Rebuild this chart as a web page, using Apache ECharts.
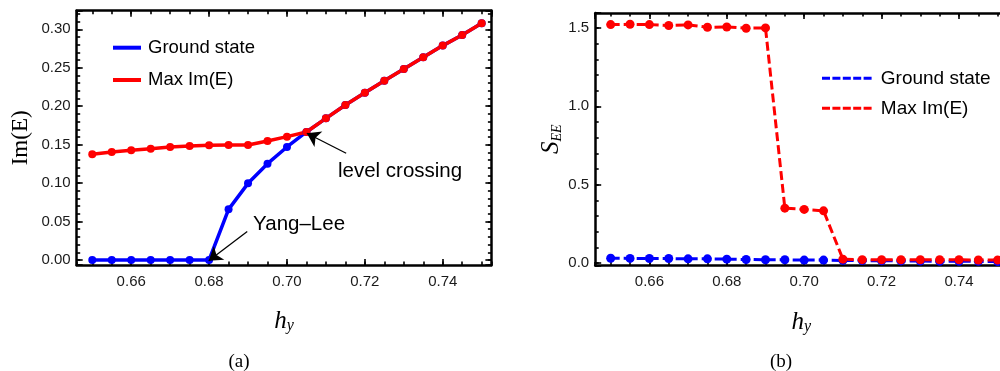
<!DOCTYPE html>
<html>
<head>
<meta charset="utf-8">
<script src="https://cdn.jsdelivr.net/npm/echarts@6/dist/echarts.min.js"></script>
<style>
  html, body { margin: 0; padding: 0; background: #fff; }
  #chart { width: 1000px; height: 371px; }
</style>
</head>
<body>
<div id="chart"></div>
<script>
// h_y
var hy = [0.65, 0.655, 0.66, 0.665, 0.67, 0.675, 0.68, 0.685, 0.69, 0.695, 0.70,
  0.705, 0.71, 0.715, 0.72, 0.725, 0.73, 0.735, 0.74, 0.745, 0.75];
// (a) Im(E)
var imGround = [0, 0, 0, 0, 0, 0, 0, 0.0659, 0.0997, 0.1253, 0.1470,
  0.1665, 0.1842, 0.2016, 0.2176, 0.2332, 0.2484, 0.2636, 0.2788, 0.2926, 0.3078];
var imMax = [0.1374, 0.1405, 0.1426, 0.1448, 0.1470, 0.1483, 0.1491, 0.1496, 0.1496, 0.1548, 0.1604,
  0.1665, 0.1842, 0.2016, 0.2176, 0.2332, 0.2484, 0.2636, 0.2788, 0.2926, 0.3078];
// (b) S_EE
var seeGround = [0.032, 0.031, 0.030, 0.030, 0.028, 0.028, 0.026, 0.024, 0.022, 0.022, 0.020,
  0.020, 0.018, 0.017, 0.016, 0.015, 0.014, 0.013, 0.012, 0.012, 0.011];
var seeMax = [1.521, 1.523, 1.521, 1.515, 1.519, 1.504, 1.506, 1.498, 1.500, 0.351, 0.343,
  0.334, 0.026, 0.023, 0.022, 0.022, 0.022, 0.022, 0.022, 0.021, 0.021];
// 刻度标签
var xTickLabels = ['0.66', '0.68', '0.70', '0.72', '0.74'];
var imTickLabels = ['0.00', '0.05', '0.10', '0.15', '0.20', '0.25', '0.30'];
var seeTickLabels = ['0.0', '0.5', '1.0', '1.5'];

var SANS = '"Liberation Sans", Arial, sans-serif';
var SERIF = '"Liberation Serif", "Times New Roman", serif';
var BLUE = '#0000ff';
var RED = '#ff0000';

function pairs(ys) {
  return hy.map(function (x, i) { return [x, ys[i]]; });
}

function pickLabel(list, digits) {
  return function (v) {
    var s = v.toFixed(digits);
    return list.indexOf(s) >= 0 ? s : '';
  };
}

// 边框 + 主次刻度（Mathematica frame 风格）
function frameAxes(dim, gridIndex, min, max, nMajor, nMinor, label, name) {
  var sides = dim === 'x' ? ['bottom', 'top'] : ['left', 'right'];
  var out = [];
  sides.forEach(function (side, k) {
    [nMajor, nMinor].forEach(function (n, j) {
      var ax = {
        type: 'value',
        gridIndex: gridIndex,
        position: side,
        min: min,
        max: max,
        splitNumber: n,
        splitLine: { show: false },
        axisLine: { show: j === 0, onZero: false, lineStyle: { color: '#000', width: 2.5 } },
        axisTick: { show: true, inside: true, length: j === 0 ? 6 : 3.5, lineStyle: { color: '#000', width: 1.6 } },
        axisLabel: { show: false },
      };
      if (k === 0 && j === 0) {
        ax.axisLabel = label;
        if (name) {
          for (var key in name) ax[key] = name[key];
        }
      }
      out.push(ax);
    });
  });
  return out;
}

var tickFont = { fontFamily: SANS, fontSize: 15, color: '#1a1a1a' };

var hName = {
  name: '{h|h}{s|y}',
  nameLocation: 'middle',
  nameGap: 44,
  nameTextStyle: {
    rich: {
      h: { fontFamily: SERIF, fontStyle: 'italic', fontSize: 25, color: '#000' },
      s: { fontFamily: SERIF, fontStyle: 'italic', fontSize: 16, color: '#000', verticalAlign: 'bottom', padding: [8, 0, 0, 0] },
    },
  },
};

var xAxes = []
  .concat(frameAxes('x', 0, 0.646, 0.7525, 5, 21,
    Object.assign({ show: true, margin: 9, showMinLabel: false, showMaxLabel: false, formatter: pickLabel(xTickLabels, 2) }, tickFont), hName))
  .concat(frameAxes('x', 1, 0.646, 0.7525, 5, 21,
    Object.assign({ show: true, margin: 9, showMinLabel: false, showMaxLabel: false, formatter: pickLabel(xTickLabels, 2) }, tickFont), hName));

var yAxes = []
  .concat(frameAxes('y', 0, -0.0065, 0.3242, 6, 33,
    Object.assign({ show: true, margin: 6, formatter: pickLabel(imTickLabels, 2) }, tickFont),
    {
      name: 'Im(E)',
      nameLocation: 'middle',
      nameGap: 44,
      nameTextStyle: { fontFamily: SERIF, fontSize: 23, color: '#000' },
    }))
  .concat(frameAxes('y', 1, -0.015, 1.595, 3, 16,
    Object.assign({ show: true, margin: 6, formatter: pickLabel(seeTickLabels, 1) }, tickFont),
    {
      name: '{s|S}{e|EE}',
      nameLocation: 'middle',
      nameGap: 31,
      nameTextStyle: {
        rich: {
          s: { fontFamily: SERIF, fontStyle: 'italic', fontSize: 25, color: '#000' },
          e: { fontFamily: SERIF, fontStyle: 'italic', fontSize: 14, color: '#000', verticalAlign: 'bottom', padding: [8, 0, 0, 0] },
        },
      },
    }));

// 箭头注释
var arrowStyle = { color: '#000', width: 1.3, type: 'solid' };
var noteLabel = { show: true, position: 'right', distance: 0, fontFamily: SANS, fontSize: 20.5, color: '#000', formatter: function (p) { return p.name; } };

var dashIcon = 'path://M0,0h8v3h-8z M10.4,0h8v3h-8z M20.8,0h8v3h-8z M31.2,0h8v3h-8z M41.6,0h8v3h-8z';

var option = {
  animation: false,
  backgroundColor: '#fff',
  grid: [
    { left: 76.7, top: 10.7, width: 414.7, height: 254.3, outerBoundsMode: 'none' },
    { left: 595.2, top: 13, width: 412.2, height: 252.6, outerBoundsMode: 'none' },
  ],
  xAxis: xAxes,
  yAxis: yAxes,
  legend: [
    {
      orient: 'vertical',
      left: 108,
      top: 32.7,
      itemWidth: 28,
      itemHeight: 4,
      itemGap: 12.3,
      selectedMode: false,
      textStyle: { fontFamily: SANS, fontSize: 18.5, color: '#000', lineHeight: 20, padding: [0, 0, 0, 2] },
      data: [
        { name: 'Ground state', icon: 'rect', itemStyle: { color: BLUE, borderWidth: 0 } },
        { name: 'Max Im(E)', icon: 'rect', itemStyle: { color: RED, borderWidth: 0 } },
      ],
    },
    {
      orient: 'vertical',
      left: 817,
      top: 63.3,
      itemWidth: 50,
      itemHeight: 3,
      itemGap: 10,
      selectedMode: false,
      textStyle: { fontFamily: SANS, fontSize: 19, color: '#000', lineHeight: 20, padding: [0, 0, 0, 4] },
      data: [
        { name: 'Ground state', icon: dashIcon, itemStyle: { color: BLUE, borderWidth: 0 } },
        { name: 'Max Im(E)', icon: dashIcon, itemStyle: { color: RED, borderWidth: 0 } },
      ],
    },
  ],
  graphic: [
    { type: 'text', x: 239, y: 362, style: { text: '(a)', font: '19px ' + SERIF, fill: '#000', align: 'center', verticalAlign: 'middle' } },
    { type: 'text', x: 781, y: 362, style: { text: '(b)', font: '19px ' + SERIF, fill: '#000', align: 'center', verticalAlign: 'middle' } },
  ],
  series: [
    {
      name: 'Ground state',
      type: 'line',
      xAxisIndex: 0,
      yAxisIndex: 0,
      data: pairs(imGround),
      symbol: 'circle',
      symbolSize: 8,
      itemStyle: { color: BLUE },
      lineStyle: { color: BLUE, width: 3.5, join: 'round', cap: 'round' },
    },
    {
      name: 'Max Im(E)',
      type: 'line',
      xAxisIndex: 0,
      yAxisIndex: 0,
      data: pairs(imMax),
      symbol: 'circle',
      symbolSize: 8,
      itemStyle: { color: RED },
      lineStyle: { color: RED, width: 3.5, join: 'round', cap: 'round' },
      markLine: {
        silent: true,
        animation: false,
        symbol: ['none', 'arrow'],
        symbolSize: 13,
        label: { show: false },
        lineStyle: arrowStyle,
        itemStyle: { color: '#000' },
        emphasis: { disabled: true },
        data: [
          [{ coord: [0.7152, 0.1388] }, { coord: [0.7051, 0.1648] }],
          [{ coord: [0.6898, 0.037] }, { coord: [0.6799, -0.001] }],
        ],
      },
      markPoint: {
        silent: true,
        symbol: 'circle',
        symbolSize: 0,
        label: noteLabel,
        data: [
          { name: 'level crossing', coord: [0.7131, 0.1157] },
          { name: 'Yang–Lee', coord: [0.6913, 0.0468] },
        ],
      },
    },
    {
      name: 'Ground state',
      type: 'line',
      xAxisIndex: 4,
      yAxisIndex: 4,
      data: pairs(seeGround),
      symbol: 'circle',
      symbolSize: 9,
      itemStyle: { color: BLUE },
      lineStyle: { color: BLUE, width: 3, type: [9, 4] },
    },
    {
      name: 'Max Im(E)',
      type: 'line',
      xAxisIndex: 4,
      yAxisIndex: 4,
      data: pairs(seeMax),
      symbol: 'circle',
      symbolSize: 9,
      itemStyle: { color: RED },
      lineStyle: { color: RED, width: 3, type: [9, 4] },
    },
  ],
};

var chart = echarts.init(document.getElementById('chart'));
chart.setOption(option);
</script>
</body>
</html>
